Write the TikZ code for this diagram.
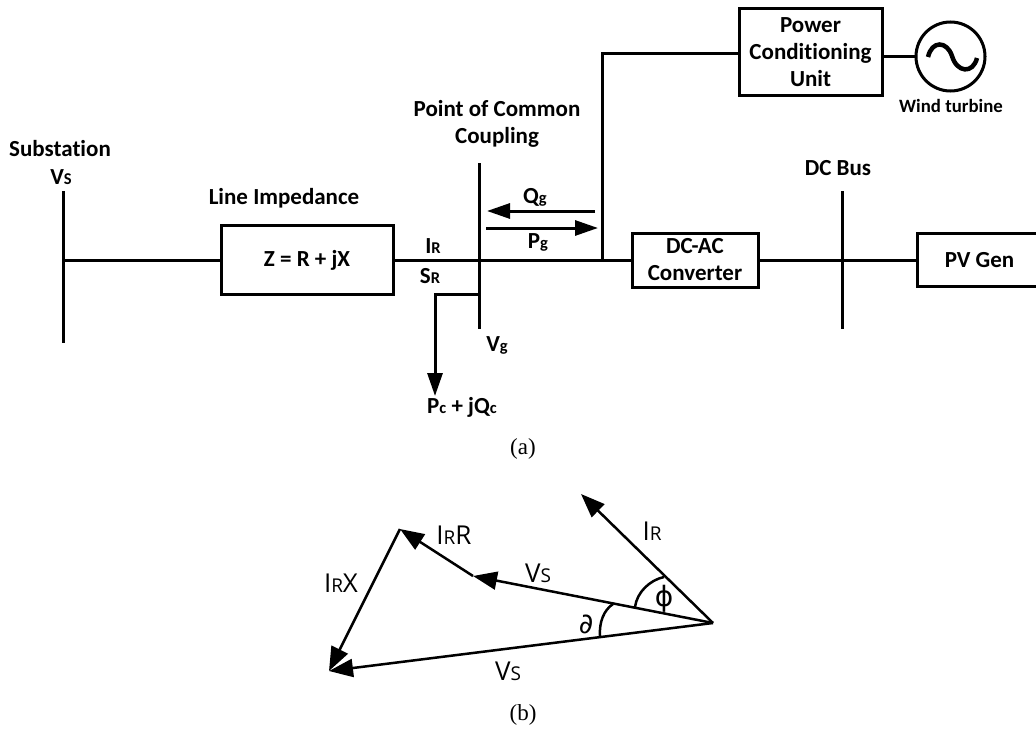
\documentclass[tikz,border=0pt]{standalone}
\usepackage{fontspec}
\setmainfont[RawFeature=-liga]{Carlito}
\newfontfamily\phasorfont{Open Sans}
\newfontfamily\capfont{Liberation Serif}
\newfontfamily\symfont{DejaVu Sans}
\usetikzlibrary{arrows.meta}
\newcommand{\lowr}[1]{{\fontsize{16.5}{16.5}\selectfont #1}}
\newcommand{\lowv}[1]{{\fontsize{19}{19}\selectfont #1}}
\tikzset{
  wire/.style={line width=3pt},
  flow/.style={line width=3pt,-{Triangle[length=23pt,width=15pt]}},
  phasor/.style={line width=2.5pt,-{Triangle[length=24pt,width=18pt]}},
  anglearc/.style={line width=2.5pt},
  box/.style={draw,line width=3pt,inner sep=0pt,align=center,font=\fontsize{23}{27}\selectfont\bfseries},
  lab/.style={inner sep=0pt,align=center,font=\fontsize{23}{27}\selectfont\bfseries},
  plab/.style={inner sep=0pt,font=\fontsize{26}{26}\selectfont\phasorfont},
  figcap/.style={inner sep=0pt,font=\fontsize{23}{23}\selectfont\capfont}
}
\begin{document}
\begin{tikzpicture}[x=1pt,y=-1pt]
\useasboundingbox (0,0) rectangle (1036,733);
% buses
\coordinate (vsTop) at (63,191);
\coordinate (vsBot) at (63,343);
\coordinate (vsMid) at (63,260);
\coordinate (pccTop) at (479,163);
\coordinate (pccBot) at (479,329);
\coordinate (pccMid) at (479,260);
\coordinate (pccLoad) at (479,294);
\coordinate (dcTop) at (842,191);
\coordinate (dcBot) at (842,329);
\coordinate (dcMid) at (842,260);
\draw[wire] (vsTop) -- (vsBot);
\draw[wire] (pccTop) -- (pccBot);
\draw[wire] (dcTop) -- (dcBot);
% blocks
\node[box,minimum width=172,minimum height=69] (zbox) at (307,260) {Z = R + jX};
\node[box,minimum width=126,minimum height=54] (conv) at (695,260) {DC-AC\\Converter};
\node[box,minimum width=125,minimum height=53] (pv) at (979.5,260) {PV Gen};
\node[box,minimum width=143,minimum height=87] (pcu) at (810.5,52.5) {Power\\Conditioning\\Unit};
\node[draw,circle,line width=3pt,minimum size=69,inner sep=0pt] (wt) at (950.5,56.5) {};
\draw[line width=4.5pt] (928,57) .. controls (932,40) and (947,41) .. (952,56) .. controls (957,73) and (973,74) .. (977,58);
% lines
\coordinate (tap) at (602,260);
\coordinate (tapTop) at (602,54);
\coordinate (loadCorner) at (435,294);
\coordinate (loadEnd) at (435,396);
\draw[wire] (vsMid) -- (zbox.west);
\draw[wire] (zbox.east) -- (pccMid) -- (tap) -- (conv.west);
\draw[wire] (conv.east) -- (dcMid) -- (pv.west);
\draw[wire] (tap) -- (tapTop) -- (tapTop-|pcu.west);
\draw[wire] (wt.west) -- (wt.west-|pcu.east);
\draw[flow] (pccLoad) -- (loadCorner) -- (loadEnd);
\coordinate (qStart) at (595,211);
\coordinate (qEnd) at (487,211);
\coordinate (pStart) at (486,228);
\coordinate (pEnd) at (598,228);
\draw[flow] (qStart) -- (qEnd);
\draw[flow] (pStart) -- (pEnd);
% labels
\node[lab] (sub) at (60,149) {Substation};
\node[lab] (vs) at (61,177) {V\lowr{S}};
\node[lab] (line) at (284,198) {Line Impedance};
\node[lab] (pcc) at (497,124) {Point of Common\\Coupling};
\node[lab] (dcb) at (838,168) {DC Bus};
\node[lab,font=\fontsize{18.8}{18.8}\selectfont\bfseries] (wind) at (951,106) {Wind turbine};
\node[lab] (qg) at (535,197) {Q\lowr{g}};
\node[lab] (pg) at (538,242) {P\lowr{g}};
\node[lab] (ir) at (433,246) {I\lowr{R}};
\node[lab] (sr) at (430,276) {S\lowr{R}};
\node[lab] (vg) at (497,345) {V\lowr{g}};
\node[lab] (load) at (462,407) {P\lowr{c} + jQ\lowr{c}};
\node[figcap] (capa) at (523,449) {(a)};
% phasor diagram
\coordinate (orig) at (713,623);
\coordinate (irTip) at (581,494);
\coordinate (vsTip) at (473,576);
\coordinate (rTip) at (400,529);
\coordinate (xTip) at (329,671);
\draw[phasor] (orig) -- (irTip);
\draw[phasor] (orig) -- (vsTip);
\draw[phasor] (vsTip) -- (rTip);
\draw[phasor] (rTip) -- (xTip);
\draw[phasor] (orig) -- (xTip);
\coordinate (phiA) at (635,607);
\coordinate (phiB) at (664,577);
\coordinate (delA) at (613,604);
\coordinate (delB) at (600,636);
\draw[anglearc] (phiA) .. controls (637,592) and (650,580) .. (phiB);
\draw[anglearc] (delA) .. controls (604,610) and (599,622) .. (delB);
\node[plab] (lir) at (652,531) {I\lowv{R}};
\node[plab] (lirr) at (454,535) {I\lowv{R}R};
\node[plab] (lirx) at (341,583) {I\lowv{R}X};
\node[plab] (lvs) at (538,573) {V\lowv{S}};
\node[plab] (lvss) at (508,671) {V\lowv{S}};
\node[plab,font=\fontsize{28}{28}\selectfont\symfont] (lphi) at (664,599) {ϕ};
\node[plab,font=\fontsize{28}{28}\selectfont\symfont] (ldel) at (586,624) {∂};
\node[figcap] (capb) at (523,715) {(b)};
\end{tikzpicture}
\end{document}
